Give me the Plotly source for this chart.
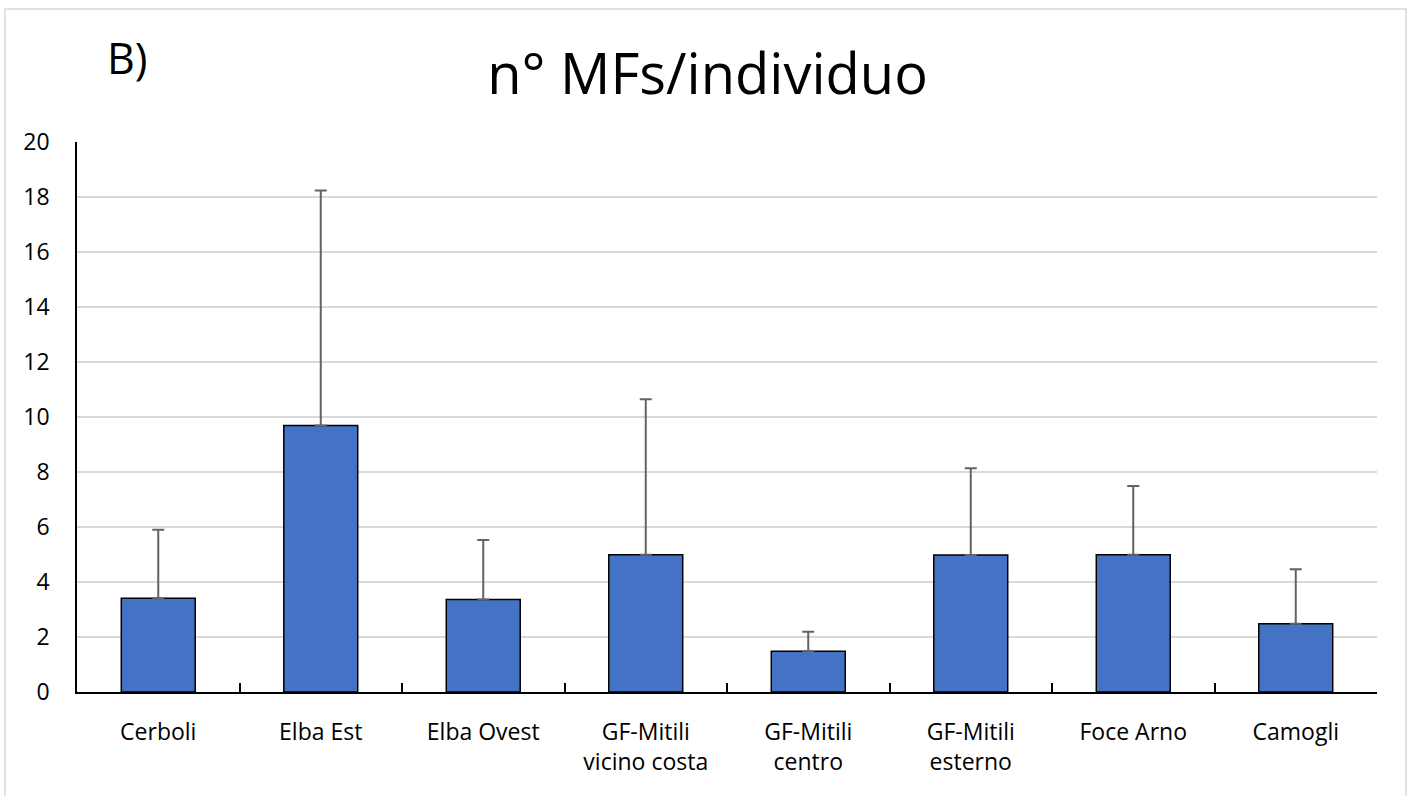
import plotly.graph_objects as go

categories = ["Cerboli", "Elba Est", "Elba Ovest", "GF-Mitili<br>vicino costa",
              "GF-Mitili<br>centro", "GF-Mitili<br>esterno", "Foce Arno", "Camogli"]
means = [3.41, 9.69, 3.36, 4.99, 1.48, 4.98, 4.99, 2.48]
err_top = [5.90, 18.24, 5.53, 10.65, 2.19, 8.14, 7.49, 4.46]
err_plus = [t - m for t, m in zip(err_top, means)]
y_ticks = list(range(0, 21, 2))

FONT = "Open Sans"

fig = go.Figure()
fig.add_trace(go.Bar(
    x=categories, y=means,
    width=0.455,
    marker=dict(color="#4472C4", line=dict(color="black", width=1.5)),
    error_y=dict(type="data", symmetric=False, array=err_plus,
                 arrayminus=[0] * len(means),
                 color="#636363", thickness=2, width=6),
))

fig.update_layout(
    width=1411, height=796,
    margin=dict(l=77, r=34, t=142, b=104),
    paper_bgcolor="white", plot_bgcolor="white",
    showlegend=False,
    font=dict(family=FONT, color="black", size=23),
    title=dict(text="n° MFs/individuo", x=0.485, xref="paper", xanchor="center",
               y=0.907, yref="container", yanchor="middle",
               font=dict(family=FONT, size=56, color="black")),
    bargap=0.5,
)
fig.update_xaxes(
    type="category", showline=True, linecolor="black", linewidth=1.5,
    ticks="inside", tickson="boundaries", ticklen=9, tickcolor="black", tickwidth=1.5,
    tickfont=dict(family=FONT, size=23, color="black"),
    ticklabelstandoff=19, showgrid=False,
)
fig.update_yaxes(
    range=[0, 20], tickvals=y_ticks, showline=True, linecolor="black", linewidth=1.5,
    gridcolor="#D9D9D9", gridwidth=1.5, zeroline=False, ticks="",
    tickfont=dict(family=FONT, size=23, color="black"),
    ticklabelstandoff=21,
)
fig.add_annotation(text="B)", xref="paper", yref="paper", x=0.0215, y=1.1545,
                   xanchor="left", yanchor="middle", showarrow=False,
                   font=dict(family=FONT, size=43, color="black"))
fig.add_shape(type="rect", xref="paper", yref="paper",
              x0=-0.0554, x1=1.0223, y0=-0.2, y1=1.2418,
              line=dict(color="#D9D9D9", width=1.5), fillcolor="rgba(0,0,0,0)",
              layer="below")

fig.write_html("out.html")
